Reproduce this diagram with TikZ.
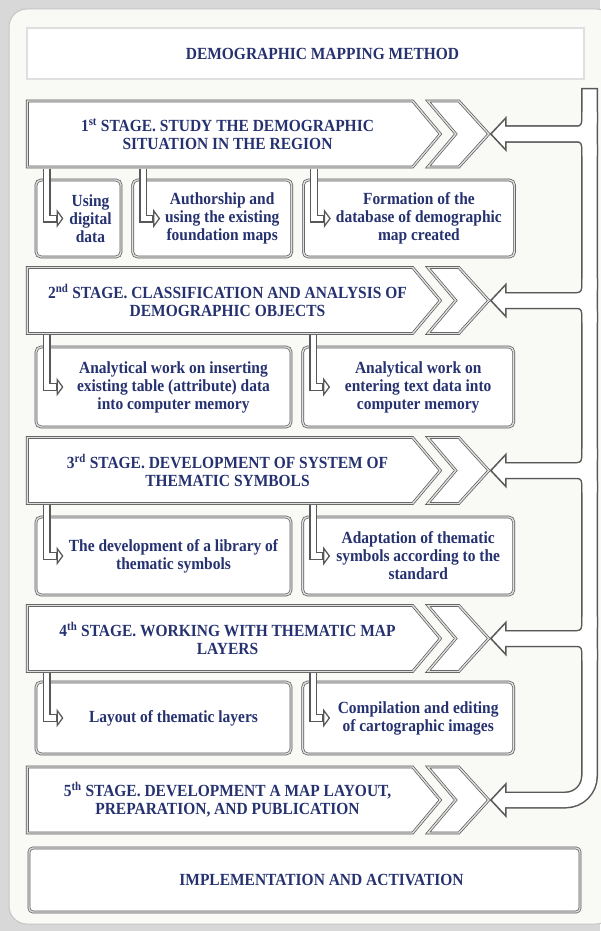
\documentclass[tikz,border=0pt]{standalone}
\usepackage{fontspec}
\setmainfont{Liberation Serif}[FakeStretch=0.91]
\usetikzlibrary{positioning, calc, shapes.symbols}

\definecolor{EdgeGray}{RGB}{88,88,88}
\definecolor{TextNavy}{RGB}{38,50,112}
\definecolor{PanelWhite}{RGB}{249,250,246}
\definecolor{BackGray}{RGB}{216,216,216}

\tikzset{
  frame/.style={draw=EdgeGray, line width=0.7pt, double=gray!25, double distance=1.4pt, fill=white},
  txt/.style={font=\bfseries\fontsize{17}{18}\selectfont, text=TextNavy, align=center, inner sep=0pt},
  boxed/.style={frame, inner sep=0pt},
  subbox/.style={frame, rounded corners=5pt, inner sep=0pt},
  stage/.style={frame, shape=signal, signal to=east, signal pointer angle=100,
    minimum width=413pt, minimum height=66pt, inner sep=0pt, anchor=west},
  head/.style={draw=EdgeGray, fill=white, line width=1.5pt, line join=miter}
}

% hollow pipe back to the stages: colour, width, end shift, top shift
\newcommand{\returnpipes}[4]{%
  \draw[draw=#1, line width=#2, rounded corners=24pt] ($(rt)+(0,#4)$) -- (rt |- s5.east) -- ($(s5.east)+(#3,0)$);
  \foreach \st in {s1,s2,s3,s4}{
    \draw[draw=#1, line width=#2, rounded corners=12pt] ($(rt |- \st.east)+(0,-22)$) -- (rt |- \st.east) -- ($(\st.east)+(#3,0)$);
    \draw[draw=#1, line width=#2, rounded corners=12pt] ($(rt |- \st.east)+(0,22)$) -- (rt |- \st.east) -- ($(\st.east)+(#3,0)$);
  }
}
% hollow L pipes from a stage into its boxes: colour, width, end shift
\newcommand{\feedpipes}[3]{%
  \foreach \st/\bx in {s1/b11, s1/b12, s1/b13, s2/b21, s2/b22, s3/b31, s3/b32, s4/b41, s4/b42}{
    \draw[draw=#1, line width=#2, line join=miter] ($(\bx.west |- \st.south)+(11,1.2)$) -- ($(\bx.west)+(11,0)$) -- ($(\bx.west)+(#3,0)$);
  }
}

\begin{document}
\begin{tikzpicture}[x=1pt, y=-1pt]
\useasboundingbox (0,0) rectangle (600,931);
\fill[BackGray] (0,0) rectangle (600,931);
\draw[draw=gray!45, fill=PanelWhite, line width=1pt, rounded corners=18pt] (9,9) rectangle (614,924);

\node[boxed, minimum width=557pt, minimum height=51pt, label={[txt,xshift=17pt]center:DEMOGRAPHIC MAPPING METHOD}] (ttl) at (305.5,53.5) {};

\node[stage, label={[txt,xshift=7.5pt]center:{1\textsuperscript{st} STAGE. STUDY THE DEMOGRAPHIC\\SITUATION IN THE REGION}}] (s1) at (27,134) {};
\node[stage, label={[txt,xshift=7.5pt]center:{2\textsuperscript{nd} STAGE. CLASSIFICATION AND ANALYSIS OF\\DEMOGRAPHIC OBJECTS}}] (s2) at (27,300.5) {};
\node[stage, label={[txt,xshift=7.5pt]center:{3\textsuperscript{rd} STAGE. DEVELOPMENT OF SYSTEM OF\\THEMATIC SYMBOLS}}] (s3) at (27,470.5) {};
\node[stage, label={[txt,xshift=7.5pt]center:{4\textsuperscript{th} STAGE. WORKING WITH THEMATIC MAP\\LAYERS}}] (s4) at (27,638.5) {};
\node[stage, label={[txt,xshift=7.5pt]center:{5\textsuperscript{th} STAGE. DEVELOPMENT A MAP LAYOUT,\\PREPARATION, AND PUBLICATION}}] (s5) at (27,800) {};

% double chevrons
\foreach \st in {s1,s2,s3,s4,s5}
  \draw[frame] ($(\st.east)+(-13,-33)$) -- ($(\st.east)+(18,-33)$) -- ($(\st.east)+(48,0)$)
    -- ($(\st.east)+(18,33)$) -- ($(\st.east)+(-13,33)$) -- ($(\st.east)+(15,0)$) -- cycle;

\node[subbox, minimum width=85pt, minimum height=77pt, label={[txt,xshift=12pt]center:{Using\\digital\\data}}] (b11) at (78.5,218.5) {};
\node[subbox, minimum width=159pt, minimum height=77pt, right=11pt of b11, label={[txt,xshift=10pt]center:{Authorship and\\using the existing\\foundation maps}}] (b12) {};
\node[subbox, minimum width=211pt, minimum height=77pt, right=11pt of b12, label={[txt,xshift=10pt]center:{Formation of the\\database of demographic\\map created}}] (b13) {};

\node[subbox, minimum width=255pt, minimum height=80pt, label={[txt,xshift=10pt]center:{Analytical work on inserting\\existing table (attribute) data\\into computer memory}}] (b21) at (163.5,387) {};
\node[subbox, minimum width=211pt, minimum height=80pt, right=11pt of b21, label={[txt,xshift=10pt]center:{Analytical work on\\entering text data into\\computer memory}}] (b22) {};

\node[subbox, minimum width=255pt, minimum height=78pt, label={[txt,xshift=10pt]center:{The development of a library of\\thematic symbols}}] (b31) at (163.5,556) {};
\node[subbox, minimum width=211pt, minimum height=78pt, right=11pt of b31, label={[txt,xshift=10pt]center:{Adaptation of thematic\\symbols according to the\\standard}}] (b32) {};

\node[subbox, minimum width=255pt, minimum height=72pt, label={[txt,xshift=10pt]center:{Layout of thematic layers}}] (b41) at (163.5,718) {};
\node[subbox, minimum width=211pt, minimum height=72pt, right=11pt of b41, label={[txt,xshift=10pt]center:{Compilation and editing\\of cartographic images}}] (b42) {};

\node[subbox, rounded corners=4pt, minimum width=551pt, minimum height=64pt, label={[txt,xshift=17pt]center:IMPLEMENTATION AND ACTIVATION}] (impl) at (304.5,880) {};

% feed arrows into the boxes
\feedpipes{EdgeGray}{8pt}{21.5}
\foreach \bx in {b11,b12,b13,b21,b22,b31,b32,b41,b42}
  \draw[head, line width=1.25pt] ($(\bx.west)+(27,0)$) -- ($(\bx.west)+(21.5,-7.5)$) -- ($(\bx.west)+(21.5,7.5)$) -- cycle;
\feedpipes{white}{5.5pt}{20}

% return arrows on the right
\coordinate (rt) at (589.5,88);
\returnpipes{EdgeGray}{17pt}{65}{0}
\foreach \st in {s1,s2,s3,s4,s5}
  \draw[head] ($(\st.east)+(50,0)$) -- ($(\st.east)+(65,-16)$) -- ($(\st.east)+(65,16)$) -- cycle;
\returnpipes{white}{14pt}{63}{1.5}
\end{tikzpicture}
\end{document}
